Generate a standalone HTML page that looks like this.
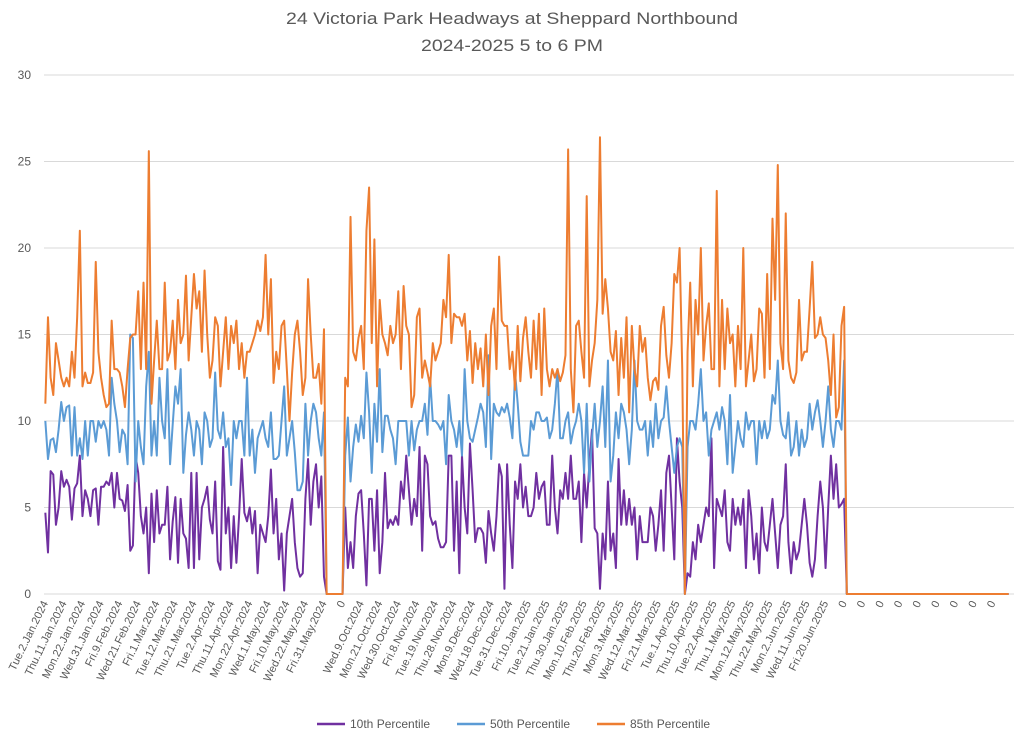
<!DOCTYPE html>
<html><head><meta charset="utf-8"><style>
body{margin:0;background:#fff;}
svg{display:block;font-family:"Liberation Sans",sans-serif;}
</style></head><body>
<svg id="chart" width="1024" height="738" viewBox="0 0 1024 738">
<rect width="1024" height="738" fill="#fff"/>
<text x="512" y="24" text-anchor="middle" font-size="17" fill="#595959" textLength="452" lengthAdjust="spacingAndGlyphs">24 Victoria Park Headways at Sheppard Northbound</text>
<text x="512" y="51" text-anchor="middle" font-size="17" fill="#595959" textLength="182" lengthAdjust="spacingAndGlyphs">2024-2025 5 to 6 PM</text>
<g id="grid"></g>
<g id="yaxis"></g>
<g id="xaxis"></g>
<g id="series"></g>
<g font-size="12" fill="#595959">
<g><line x1="317" y1="724" x2="345" y2="724" stroke="#7030A0" stroke-width="2.5"/><text x="350" y="728">10th Percentile</text></g>
<g><line x1="457" y1="724" x2="485" y2="724" stroke="#5B9BD5" stroke-width="2.5"/><text x="490" y="728">50th Percentile</text></g>
<g><line x1="597" y1="724" x2="625" y2="724" stroke="#ED7D31" stroke-width="2.5"/><text x="630" y="728">85th Percentile</text></g>
</g>
</svg>
<script>
const xLabels=["Tue.2.Jan.2024","Thu.11.Jan.2024","Mon.22.Jan.2024","Wed.31.Jan.2024","Fri.9.Feb.2024","Wed.21.Feb.2024","Fri.1.Mar.2024","Tue.12.Mar.2024","Thu.21.Mar.2024","Tue.2.Apr.2024","Thu.11.Apr.2024","Mon.22.Apr.2024","Wed.1.May.2024","Fri.10.May.2024","Wed.22.May.2024","Fri.31.May.2024","0","Wed.9.Oct.2024","Mon.21.Oct.2024","Wed.30.Oct.2024","Fri.8.Nov.2024","Tue.19.Nov.2024","Thu.28.Nov.2024","Mon.9.Dec.2024","Wed.18.Dec.2024","Tue.31.Dec.2024","Fri.10.Jan.2025","Tue.21.Jan.2025","Thu.30.Jan.2025","Mon.10.Feb.2025","Thu.20.Feb.2025","Mon.3.Mar.2025","Wed.12.Mar.2025","Fri.21.Mar.2025","Tue.1.Apr.2025","Thu.10.Apr.2025","Tue.22.Apr.2025","Thu.1.May.2025","Mon.12.May.2025","Thu.22.May.2025","Mon.2.Jun.2025","Wed.11.Jun.2025","Fri.20.Jun.2025","0","0","0","0","0","0","0","0","0"];
const yTicks=[0,5,10,15,20,25,30];
const p10=[4.7,2.4,7.1,6.9,4,5,7.1,6.2,6.6,6.2,4.3,6.1,6.4,8,4.5,6,5.5,4.5,6,6.1,4,6.2,6.2,6.5,6.3,7,5,7,5.5,5.4,4.8,6.3,2.5,2.8,8,7,4.5,3.5,5,1.2,5.8,3,6,3.5,4,4,6.2,2,4.2,5.6,1.8,5.5,3.5,3.2,1.5,7,1.5,7,2,5,5.5,6.2,4.3,3.5,6.5,1.9,1.4,8.5,3.5,5,1.5,4.5,1.8,4.5,7.8,4.7,4.2,5,3.5,4.8,1.2,4,3.5,3,4.5,7.2,3.5,5.5,2,3.5,0.2,3.5,4.5,5.5,3,1.5,1,1.2,5.5,7.8,4,6.5,7.5,5,6.8,1,
0,0,0,0,0,0,0,
5,1.5,3,1.5,4.5,5.8,6,3.5,0.5,5.5,5.5,2.5,6,1.2,3,7,3.8,4.3,4,4.5,4,6.5,5.5,8,6,4,5.5,4.5,8.5,2.5,8,7.5,4.5,4,4.2,3.2,2.7,2.7,3,8,8,2.5,6.5,1.2,8,5,3.5,8.7,6,3,3.8,3.8,3.5,1.8,4.8,3.5,2.5,4.5,7.5,6.8,0.3,7.5,4,1.5,6.5,5.5,7.5,5,6.2,4.5,4.5,5,7,5.5,6.2,6.5,4,4,8,5,3.5,6,5.5,7,5.5,8,5.5,5.5,6.5,3,7,5,7.5,9.5,3.8,3.5,0.3,3.5,2,6.5,2.5,3.5,1.5,7.8,4,6,4,5.5,4,5,2,4.5,3,3,3,5,4.5,2.5,4,6,2.5,7,8,5,2,9,6.5,5,
0,
1.2,1,3,2,4,3,4,5,4.5,9,1.5,5.5,5,4.5,6,3,2.5,5.5,4,5,4,5.5,1.5,6,4.5,2,3.5,1.2,5,3,2.5,4,5.5,3.5,1.5,4,4.5,7.5,3,1.2,3,2,2.5,4,5.5,4,1.8,1,2,4.5,6.5,5,1.5,5,8,5.5,7.5,5,5.2,5.5,
0,0,0,0,0,0,0,0,0,0,0,0,0,0,0,0,0,0,0,0,0,0,0,0,0,0,0,0,0,0,0,0,0,0,0,0,0,0,0,0,0,0,0,0,0,0,0,0,0,0,0,0,0,0,0,0,0,0,0,0,0,0];
const p50=[10,7.8,8.9,9,8.2,9.5,11.1,10,10.8,10.9,8,10.8,8,9,7.8,10,8,10,10,8.8,10,9.6,10,9.5,8,12.5,11,10,8.2,9.5,9.2,7.5,15,14.8,6.5,10,8.5,7.5,12,14,8,10,8,12.5,10,9,13,7.5,9.8,12,11,13,7,9.2,10.5,9.5,8,10,9.5,7.5,10.5,10,8.5,9,12.8,9.5,9,10.5,8.5,9,6.3,10,9,10,10,8,12.5,8,9.5,7,9,9.5,10,9,8.5,10.5,7.8,7.8,8,10,12,8,9,10,8.2,6,6,6.5,11,8,10,11,10.5,9,8,10.5,
0,0,0,0,0,0,0,
8,10.2,6.5,8.5,9.8,8.8,10.3,9,12.8,10.5,7,11,8.8,13,8.2,10.3,10.3,9.5,9,7.5,10,10,10,10,8,10,8.3,9.5,10,10,11,9.2,12.5,10,10,9.8,9.5,10,7.5,11.5,10,9.5,8.5,10,8,13,10,9,8.8,9.5,10.2,11,10.5,8.5,13.8,7.8,11,10.5,10.3,10.8,10.5,11,10.2,9,12.8,11,8.8,8,8,8,10,9.5,10.5,10.5,10,10,10.2,9,9.5,11,13,9,9,10,10.5,8.7,9.5,10,11,10,7,11,6.5,9,11,8.5,10,12,8.5,13.5,6.5,8,10.5,9,11,10.5,9.5,7.5,9.5,13.5,10,9.5,9.5,10,8,10,8.5,11,9,10,10.2,12,10,8.5,7,8.5,9,8.5,
0,
8.5,10,10,9.5,11,13,10,10.5,8,9.5,10,10.5,9.5,10.8,10,7.5,11.5,7,8.5,10,9,8.5,10.5,9.5,10,10,7.5,10,9,10,9,9.5,11.5,11,13.5,10,9.2,9,10.5,8,8.5,10,8,9.5,8.5,9,11,9.5,10.5,11.2,10,8.5,10,12,9.5,8.5,10,10,9.5,13.5,
0,0,0,0,0,0,0,0,0,0,0,0,0,0,0,0,0,0,0,0,0,0,0,0,0,0,0,0,0,0,0,0,0,0,0,0,0,0,0,0,0,0,0,0,0,0,0,0,0,0,0,0,0,0,0,0,0,0,0,0,0,0];
const p85=[11,16,12.5,11.5,14.5,13.5,12.5,12,12.5,12,14,12.5,16,21,12,12.8,12.2,12.2,12.8,19.2,14,12.5,11.5,10.8,11,15.8,13,13,12.8,12,10.8,13,14.8,15,15,17.5,13,18,13,25.6,11,13.5,15.8,13,13,18,13.5,14,15.8,13,17,14.5,15,18.4,13.5,16,18.5,16.5,17.5,14,18.7,15,12.5,13.5,16,15.5,12,14,16,13,15.5,14.5,15.8,13,14.5,12.5,14,14,14.5,15,15.8,15.2,16,19.6,15,18.2,12.2,14,13,15.5,15.8,13,10,12.8,15,15.8,14,11.5,12.5,18.2,15,12.5,12.5,13.3,11,15.3,
0,0,0,0,0,0,0,
12.5,12,21.8,14,13.5,14.8,15.5,13,21,23.5,14.5,20.5,12,17,15,14.5,13.8,15.5,14.5,15,17.5,13,17.8,15.5,15,10.8,11.5,16,16.5,12.5,13.5,12.8,12,14.5,13.5,14,14.5,17,16,19.6,14.5,16.2,16,16,15.5,16.2,13.5,15.2,12.2,14.5,13,14.2,12,15,11.5,15.5,16.5,13,19.5,15.8,15.5,15.5,13,14,11.8,15.5,12.3,14.8,16,14,12.5,15.8,13,16.2,11.5,16.5,13,12,13,12.5,13,12.3,12.8,13.8,25.7,13,10.5,15.5,15.8,14,12.5,23,12,13.5,14.5,17,26.4,16.2,18.2,16.5,14,13.5,15.2,11.5,14.8,12.5,16,10.5,15.5,13,12,15.5,14,14.8,12.5,11.2,12.3,12.5,11.8,15.5,16.6,13.8,12.5,14.5,18.5,18,20,13,
0,
14,18,12,17,15,20,13.5,15.5,16.8,13,13,23.3,12,17,13,16.5,14.5,15,12,15.5,13,20,12,13.5,15,12.3,13,16.5,16.2,12.5,18.5,13,21.7,17,24.8,14.5,13,22,13.5,12.5,12.2,12.8,17,13.5,14,14,16.5,19.2,14.8,15,16,15,14.8,13.5,11.5,15,10.2,10.8,15.5,16.6,
0,0,0,0,0,0,0,0,0,0,0,0,0,0,0,0,0,0,0,0,0,0,0,0,0,0,0,0,0,0,0,0,0,0,0,0,0,0,0,0,0,0,0,0,0,0,0,0,0,0,0,0,0,0,0,0,0,0,0,0,0,0];
const labelEvery=7;

const NS="http://www.w3.org/2000/svg";
const left=44,right=1010,yTop=75,yBot=594,yMax=30;
const n=p85.length;
const step=(right-left)/n;
function xs(i){return left+step*(i+0.5);}
function ys(v){return yBot-(v/yMax)*(yBot-yTop);}
function mk(tag,attrs,parent){const e=document.createElementNS(NS,tag);for(const k in attrs)e.setAttribute(k,attrs[k]);parent.appendChild(e);return e;}
const grid=document.getElementById('grid'),ya=document.getElementById('yaxis'),xa=document.getElementById('xaxis'),ser=document.getElementById('series');
yTicks.forEach(t=>{
  const l=mk('line',{x1:left,x2:right+4,y1:ys(t),y2:ys(t),stroke:'#d9d9d9','stroke-width':1},grid);
  
  
  const tx=mk('text',{x:31,y:ys(t)+4,'text-anchor':'end','font-size':12,fill:'#595959'},ya);
  tx.textContent=t;
  
  
});
xLabels.forEach((lab,k)=>{
  const x=xs(k*labelEvery)+3,y=603;
  const tx=mk('text',{x:x,y:y,'text-anchor':'end','font-size':11,fill:'#595959',transform:'rotate(-64 '+x+' '+y+')'},xa);
  tx.textContent=lab;
  
  
});
[[p10,'#7030A0','line-10th-percentile'],[p50,'#5B9BD5','line-50th-percentile'],[p85,'#ED7D31','line-85th-percentile']].forEach(([arr,c,name])=>{
  const d=arr.map((v,i)=>(i?'L':'M')+xs(i).toFixed(2)+' '+ys(v).toFixed(2)).join('');
  const p=mk('path',{d:d,fill:'none',stroke:c,'stroke-width':2,'stroke-linejoin':'round'},ser);
  
  
});
</script>
</body></html>
